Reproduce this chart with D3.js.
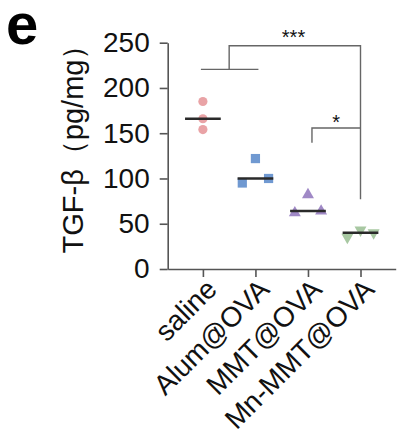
<!DOCTYPE html>
<html><head><meta charset="utf-8">
<script src="https://cdn.jsdelivr.net/npm/d3@7"></script>
<style>body{margin:0;background:#fff}svg{display:block}</style>
</head><body>
<svg id="c" width="414" height="447"></svg>
<script>
const categories = ["saline", "Alum@OVA", "MMT@OVA", "Mn-MMT@OVA"];
const salineVals = [185, 166, 154];
const alumVals = [95, 122, 100];
const mmtVals = [62, 82, 64];
const mnmmtVals = [35, 43, 40];
const jitter = [-1, 0, 1];
const yTicks = [0, 50, 100, 150, 200, 250];
const colors = ["#e9a3a6", "#7099d1", "#a089c6", "#a8c8a2"];
const shapes = ["circle", "square", "triangleUp", "triangleDown"];
const seriesVals = [salineVals, alumVals, mmtVals, mnmmtVals];
const salineJitter = [0, 0, 0];

const svg = d3.select("#c");
const x = d3.scalePoint().domain(categories).range([167.7, 395.7]).padding(0.67);
const y = d3.scaleLinear().domain([0, 250]).range([269, 42.7]);
const step = x.step();
const font = "Arial, 'Liberation Sans', Helvetica, sans-serif";

// panel letter
svg.append("text").attr("x", 6).attr("y", 44).attr("font-family", font)
  .attr("font-weight", "bold").attr("font-size", 58).text("e");

// y axis
const yAxis = svg.append("g").attr("transform", "translate(167.7,0)")
  .call(d3.axisLeft(y).tickValues(yTicks).tickSize(8).tickPadding(10).tickSizeOuter(0));
yAxis.select(".domain").attr("stroke", "#555").attr("stroke-width", 1.6);
yAxis.selectAll(".tick line").attr("stroke", "#555").attr("stroke-width", 1.6);
yAxis.selectAll(".tick text").attr("font-family", font).attr("font-size", 28).attr("fill", "#111");

// x axis
const xAxis = svg.append("g").attr("transform", "translate(0,269)")
  .call(d3.axisBottom(x).tickSize(8).tickSizeOuter(0));
xAxis.select(".domain").attr("stroke", "#555").attr("stroke-width", 1.6);
xAxis.selectAll(".tick line").attr("stroke", "#555").attr("stroke-width", 1.6);
xAxis.selectAll(".tick text").attr("font-family", font).attr("font-size", 28).attr("fill", "#111")
  .attr("text-anchor", "end").attr("y", 0).attr("dy", 0)
  .attr("transform", "translate(15,22) rotate(-45)");

// y label
svg.append("text").attr("transform", "translate(83,142) rotate(-90)")
  .attr("text-anchor", "middle").attr("font-family", font).attr("font-size", 29).attr("fill", "#111")
  .text("TGF-β（pg/mg）");

// points
const sym = {
  circle: d3.symbol().type(d3.symbolCircle).size(66),
  square: d3.symbol().type(d3.symbolSquare).size(85),
  triangleUp: d3.symbol().type(d3.symbolTriangle).size(62),
  triangleDown: d3.symbol().type(d3.symbolTriangle).size(62)
};
categories.forEach((cat, i) => {
  const vals = seriesVals[i];
  const jit = i === 0 ? salineJitter : jitter;
  const g = svg.append("g");
  vals.forEach((v, k) => {
    const cx = x(cat) + jit[k] * step * 0.25;
    const rot = shapes[i] === "triangleDown" ? " rotate(180)" : "";
    g.append("path").attr("d", sym[shapes[i]]())
      .attr("transform", `translate(${cx},${y(v)})${rot}`)
      .attr("fill", colors[i]);
  });
  const med = d3.median(vals);
  g.append("line").attr("x1", x(cat) - step * 0.34).attr("x2", x(cat) + step * 0.34)
    .attr("y1", y(med)).attr("y2", y(med)).attr("stroke", "#2a2a2a").attr("stroke-width", 2.4);
});

// significance brackets
const br = svg.append("g").attr("fill", "none").attr("stroke", "#666").attr("stroke-width", 1.4);
const b1y = 220.5, b1top = 246.7, b2y = 155.8, b2bot = 139.5, rightBot = 77;
const xr = x(categories[3]);
const x01 = (x(categories[0]) + x(categories[1])) / 2;
br.append("path").attr("d", `M${x(categories[0]) - 2},${y(b1y)}H${x(categories[1]) + 3}`);
br.append("path").attr("d", `M${x01},${y(b1y)}V${y(b1top)}H${xr}V${y(rightBot)}`);
br.append("path").attr("d", `M${x(categories[2]) + 4},${y(b2bot)}V${y(b2y)}H${xr}`);
svg.append("text").attr("x", 293.5).attr("y", y(b1top) - 1.5).attr("text-anchor", "middle")
  .attr("font-family", font).attr("font-size", 20).attr("fill", "#111").text("***");
svg.append("text").attr("x", (x(categories[2]) + 4 + xr) / 2).attr("y", y(b2y) + 1.5).attr("text-anchor", "middle")
  .attr("font-family", font).attr("font-size", 20).attr("fill", "#111").text("*");
</script>
</body></html>
